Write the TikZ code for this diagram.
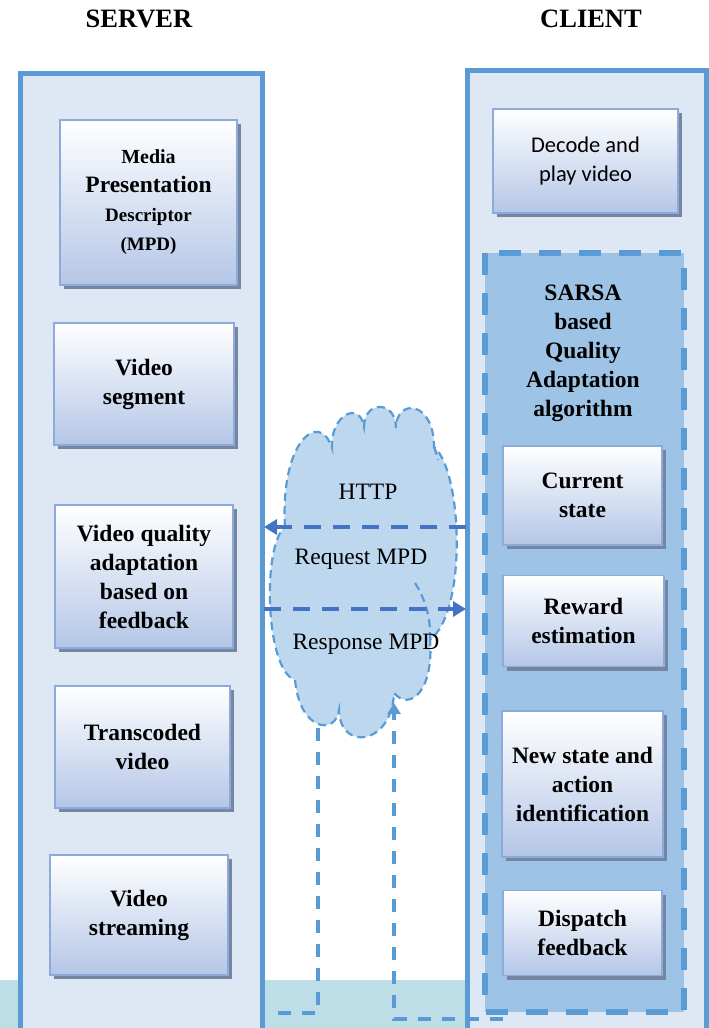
\documentclass[tikz,border=0pt]{standalone}
\usepackage{fontspec}
\setmainfont{Liberation Serif}
\newfontfamily\calib{Carlito}
\usetikzlibrary{shadows,arrows.meta}
\definecolor{outerblue}{HTML}{5B9BD5}
\definecolor{outerfill}{HTML}{DEE8F5}
\definecolor{boxborder}{HTML}{8EAADB}
\definecolor{boxbot}{HTML}{B4C6E7}
\definecolor{shadowc}{HTML}{7586A3}
\definecolor{sarsafill}{HTML}{9DC3E6}
\definecolor{cloudfill}{HTML}{BDD7EE}
\definecolor{arrowblue}{HTML}{4472C4}
\definecolor{tealband}{HTML}{BEDEE7}
\tikzset{
  gbox/.style={draw=boxborder, line width=1.8pt, top color=white, bottom color=boxbot,
    drop shadow={shadow xshift=4pt, shadow yshift=-4pt, fill=shadowc, opacity=1},
    align=center, inner sep=0pt, font=\bfseries\fontsize{23.5}{29}\selectfont},
  outerbox/.style={draw=outerblue, line width=5pt, fill=outerfill},
  title/.style={font=\bfseries\fontsize{26.5}{30}\selectfont},
  cloudtxt/.style={font=\fontsize{23.5}{26}\selectfont},
  msgarrow/.style={draw=arrowblue, line width=4pt, dash pattern=on 17pt off 12pt, -{Triangle[length=13pt,width=15pt]}},
  fbline/.style={draw=outerblue, line width=3.5pt, dash pattern=on 13pt off 11pt},
  cloudline/.style={draw=outerblue, line width=2.2pt, dash pattern=on 8pt off 5pt},
}
\begin{document}
\begin{tikzpicture}[x=1pt,y=-1pt]
\useasboundingbox (0,0) rectangle (709,1028);
\clip (0,0) rectangle (709,1028);
\fill[tealband] (0,980) rectangle (709,1028);
% titles
\node[title] (tserver) at (139,19) {SERVER};
\node[title] (tclient) at (591,19) {CLIENT};
% outer boxes
\draw[outerbox] (20,73) rectangle (262,1045);
\draw[outerbox] (467,70) rectangle (706,1045);
% SARSA region
\draw[draw=outerblue, fill=sarsafill, line width=5.5pt, dash pattern=on 22pt off 18pt] (485,253) rectangle (684,1012);
\node[align=center, font=\bfseries\fontsize{23.5}{29}\selectfont] (sarsa) at (583,353) {SARSA\\based\\Quality\\Adaptation\\algorithm};
% server boxes
\node[gbox, minimum width=177pt, minimum height=165pt] (mpd) at (148.5,202.5)
  {{\fontsize{20}{27}\selectfont Media}\\Presentation\\{\fontsize{19}{26}\selectfont Descriptor}\\{\fontsize{19}{25}\selectfont (MPD)}};
\node[gbox, minimum width=180pt, minimum height=122pt] (seg) at (144,384) {Video\\segment};
\node[gbox, minimum width=178pt, minimum height=143pt] (vqa) at (144,576.5) {Video quality\\adaptation\\based on\\feedback};
\node[gbox, minimum width=175pt, minimum height=122pt] (trans) at (142.5,747) {Transcoded\\video};
\node[gbox, minimum width=178pt, minimum height=120pt] (stream) at (139,915) {Video\\streaming};
% client boxes
\node[gbox, minimum width=185pt, minimum height=104pt, font=\calib\fontsize{22.5}{29}\selectfont] (decode) at (585.5,161) {Decode and\\play video};
\node[gbox, minimum width=159pt, minimum height=99pt] (cur) at (582.5,495.5) {Current\\state};
\node[gbox, minimum width=161pt, minimum height=91pt] (rew) at (583.5,621) {Reward\\estimation};
\node[gbox, minimum width=161pt, minimum height=146pt] (newst) at (582.5,784) {New state and\\action\\identification};
\node[gbox, minimum width=159pt, minimum height=85pt] (disp) at (582.5,933) {Dispatch\\feedback};
% cloud
\path[fill=cloudfill, cloudline]
  (285,527) .. controls (280,440) and (320,410) .. (332,448)
  .. controls (330,415) and (360,400) .. (364,427)
  .. controls (364,400) and (396,400) .. (396,428)
  .. controls (396,398) and (434,400) .. (434,447)
  .. controls (462,470) and (468,610) .. (430,640)
  .. controls (434,690) and (410,712) .. (394,693)
  .. controls (392,745) and (340,752) .. (339,710)
  .. controls (336,735) and (300,732) .. (295,680)
  .. controls (265,670) and (262,545) .. (285,527) -- cycle;
\draw[cloudline] (415,583) .. controls (426,600) and (431,620) .. (430,640);
\draw[cloudline] (434,447) .. controls (436,452) and (437,456) .. (438,460);
\node[cloudtxt] (http) at (368,492) {HTTP};
\node[cloudtxt] (req) at (361,559) {Request MPD};
\node[cloudtxt] (resp) at (366,644) {Response MPD};
% arrows
\coordinate (cR1) at (466,527);
\coordinate (sL1) at (264,527);
\coordinate (sL2) at (264,609);
\coordinate (cR2) at (466,609);
\draw[msgarrow] (cR1) -- (sL1);
\draw[msgarrow] (sL2) -- (cR2);
% feedback lines
\coordinate (fa) at (318,728);
\coordinate (fb) at (318,1013);
\coordinate (fc) at (270,1013);
\draw[fbline] (fa) -- (fb) -- (fc);
\coordinate (ga) at (503,1019);
\coordinate (gb) at (394,1019);
\coordinate (gc) at (394,703);
\draw[fbline, -{Triangle[length=11pt,width=13pt]}] (ga) -- (gb) -- (gc);
\end{tikzpicture}
\end{document}
